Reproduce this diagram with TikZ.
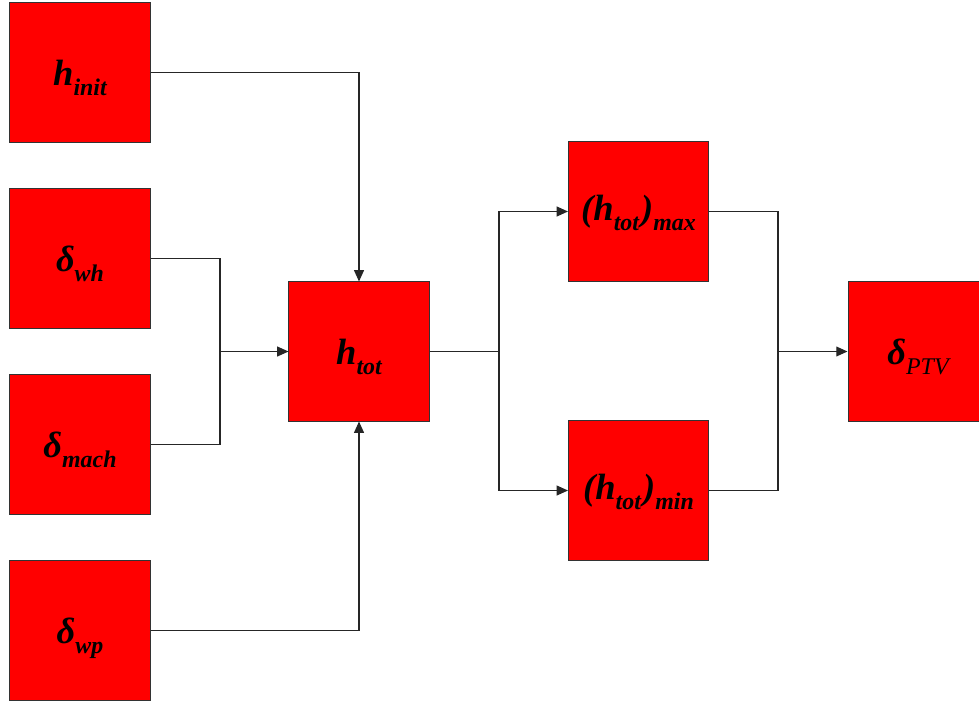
\documentclass[tikz,border=0pt]{standalone}
\usepackage{fontspec}
\setmainfont{Liberation Serif}
\usetikzlibrary{arrows.meta,positioning,calc}
\newcommand{\sublab}[1]{\raisebox{-7.5pt}[\height][0pt]{\fontsize{17}{17}\selectfont #1}}

\begin{document}
\begin{tikzpicture}[
  x=0.025cm, y=-0.025cm,
  >={Triangle[length=8pt,width=7pt]}, line width=0.5pt,
  blockbox/.style={draw=black!80, fill=red, line width=0.7pt,
                   minimum width=3.5cm, minimum height=3.475cm,
                   inner sep=0pt, font=\fontsize{26}{26}\selectfont\bfseries\itshape},
  wire/.style={draw=black!85, line width=0.9pt},
  arr/.style={wire, ->}
]
  \useasboundingbox (0,0) rectangle (979,702);

  % Inputs, left column
  \node[blockbox] (hinit) at (80, 72.5)  {h\sublab{init}};
  \node[blockbox] (dwh)   at (80, 258.5) {δ\sublab{wh}};
  \node[blockbox] (dmach) at (80, 444.5) {δ\sublab{mach}};
  \node[blockbox] (dwp)   at (80, 630.5) {δ\sublab{wp}};

  % Total
  \node[blockbox] (htot) at (359, 351.5) {h\sublab{tot}};

  % Max / min
  \node[blockbox] (hmax) at (638.5, 211.5) {(h\sublab{tot}\kern1.5pt)\sublab{max}};
  \node[blockbox] (hmin) at (638.5, 490.5) {(h\sublab{tot}\kern1.5pt)\sublab{min}};

  % Output
  \node[blockbox] (dptv) at (918, 351.5) {δ\sublab{\mdseries PTV}};

  % junction points
  \coordinate (jin)  at (220, 351.5);
  \coordinate (jmid) at (499, 351.5);
  \coordinate (jout) at (778, 351.5);

  % into h_tot
  \draw[arr] (hinit.east) -| (htot.north);
  \draw[arr] (dwp.east) -| (htot.south);
  \draw[wire] (dwh.east) -| (jin) |- (dmach.east);
  \draw[arr] (jin) -- (htot.west);

  % split
  \draw[wire] (htot.east) -- (jmid);
  \draw[arr] (jmid) |- (hmax.west);
  \draw[arr] (jmid) |- (hmin.west);

  % merge
  \draw[wire] (hmax.east) -| (jout) |- (hmin.east);
  \draw[arr] (jout) -- (dptv.west);
\end{tikzpicture}
\end{document}
